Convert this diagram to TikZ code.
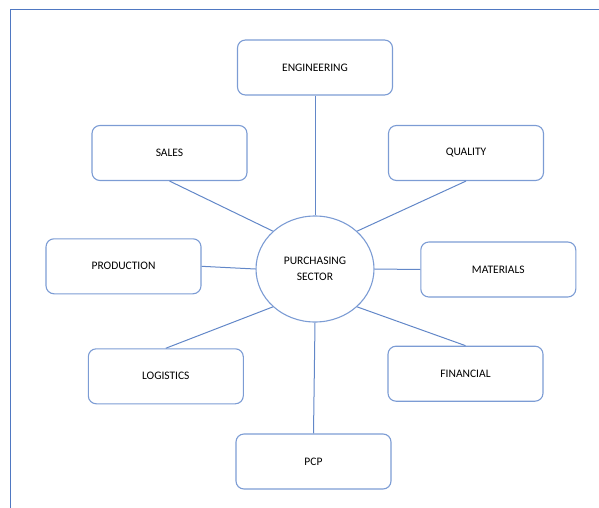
\documentclass[tikz,border=0pt]{standalone}
\usepackage{fontspec}
\setmainfont{Carlito}
\usetikzlibrary{shapes.geometric}
\definecolor{boxblue}{RGB}{124,156,212}
\definecolor{lineblue}{RGB}{98,135,200}
\definecolor{frameblue}{RGB}{79,120,194}

\tikzset{
  dept/.style={draw=boxblue, line width=1.1pt, rounded corners=8pt, minimum width=155pt, minimum height=55pt, inner sep=0pt, font=\fontsize{11.5}{14}\selectfont},
  sector/.style={draw=boxblue, line width=1.1pt, ellipse, minimum width=118pt, minimum height=106pt, inner sep=0pt, align=center, font=\fontsize{11.5}{16}\selectfont},
  link/.style={draw=lineblue, line width=1pt}
}

\begin{document}
\begin{tikzpicture}[x=1pt,y=-1pt]
\useasboundingbox (0,0) rectangle (599,508);
% frame
\draw[frameblue, line width=1pt] (10,508) -- (10,10) -- (599,10);

\coordinate (O) at (315,269);
\node[sector] (ps) at (O) {PURCHASING\\SECTOR};

\node[dept] (eng) at (315,67.5) {ENGINEERING};
\node[dept] (sales) at (169.5,153) {SALES};
\node[dept] (qual) at (466,153) {QUALITY};
\node[dept] (prod) at (123.5,266.3) {PRODUCTION};
\node[dept] (mat) at (498.3,269.5) {MATERIALS};
\node[dept] (log) at (165.8,376.3) {LOGISTICS};
\node[dept] (fin) at (465.5,373.7) {FINANCIAL};
\node[dept] (pcp) at (313.5,461.5) {PCP};

\draw[link] (eng.south) -- (ps.north);
\draw[link] (sales.south) -- (ps.north west);
\draw[link] (qual.south) -- (ps.north east);
\draw[link] (prod.east) -- (ps.west);
\draw[link] (mat.west) -- (ps.east);
\draw[link] (log.north) -- (ps.south west);
\draw[link] (fin.north) -- (ps.south east);
\draw[link] (pcp.north) -- (ps.south);

\end{tikzpicture}
\end{document}
